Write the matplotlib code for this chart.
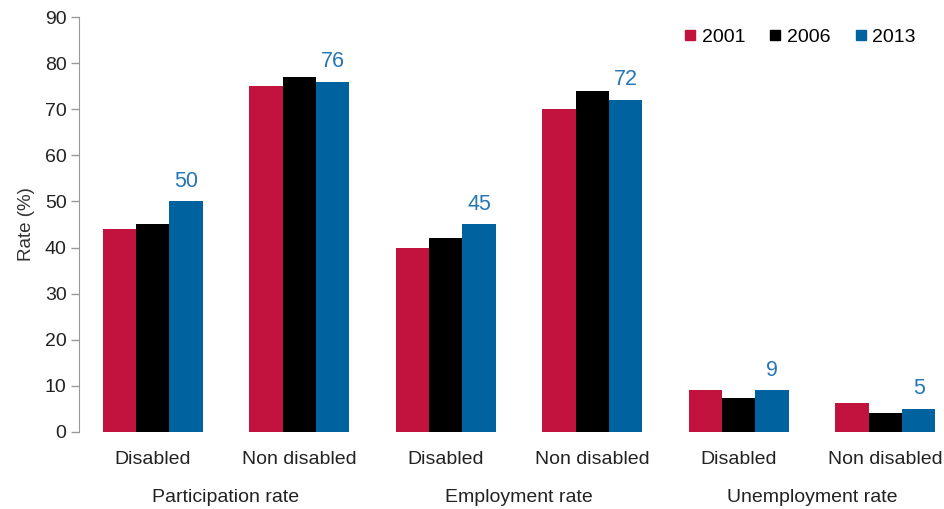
import matplotlib.pyplot as plt
from matplotlib.lines import Line2D
import numpy as np

plt.rcParams['font.family'] = ['Liberation Sans', 'DejaVu Sans']

# Labour market rates by disability status
groups = ["Participation rate", "Employment rate", "Unemployment rate"]
categories = ["Disabled", "Non disabled"] * 3
years = ["2001", "2006", "2013"]
rate_2001 = [44, 75, 40, 70, 9, 6.3]
rate_2006 = [45, 77, 42, 74, 7.3, 4.2]
rate_2013 = [50, 76, 45, 72, 9, 5]

colors = ["#C2133F", "#000000", "#00629E"]
label_color = "#2577B5"

fig = plt.figure(figsize=(9.44, 5.09), dpi=100)
ax = fig.add_axes([0.0837, 0.1513, 0.9163, 0.8153])

x = np.arange(len(categories))
w = 0.227
series = [rate_2001, rate_2006, rate_2013]
for i, (vals, c) in enumerate(zip(series, colors)):
    ax.bar(x + (i - 1) * w, vals, width=w, color=c, label=years[i])

# value labels on the 2013 bars
for xi, v in zip(x, rate_2013):
    ax.annotate(f"{v:g}", (xi + w, v), xytext=(0, 7), textcoords="offset points",
                ha="center", va="bottom", fontsize=15.5, color=label_color)

ax.set_xlim(-0.503, 5.40)
ax.set_ylim(0, 90)
ax.set_yticks(range(0, 91, 10))
ax.set_ylabel("Rate (%)", fontsize=13.5, color="#333333")
ax.yaxis.set_label_coords(-0.051, 0.5)

ax.set_xticks(x)
ax.set_xticklabels(categories, fontsize=14, color="#222222")
ax.tick_params(axis="x", length=0, pad=14)
ax.tick_params(axis="y", labelsize=14, labelcolor="#222222", color="#999999",
               length=6, width=1, direction="out", pad=3)

for side in ["top", "right", "bottom"]:
    ax.spines[side].set_visible(False)
ax.spines["left"].set_color("#999999")

# group captions below the category labels
for gi, g in enumerate(groups):
    ax.text(2 * gi + 0.5, -14.3, g, ha="center", va="center", fontsize=14,
            color="#222222", transform=ax.transData, clip_on=False)

handles = [Line2D([], [], marker="s", linestyle="none", markersize=7,
                  markerfacecolor=c, markeredgecolor=c) for c in colors]
ax.legend(handles, years, ncol=3, loc="center", bbox_to_anchor=(800 / 944, 1 - 37 / 509),
          bbox_transform=fig.transFigure, frameon=False, fontsize=14,
          handlelength=0.6, handletextpad=0.3, columnspacing=1.25)

fig.savefig("out.png", dpi=100)
